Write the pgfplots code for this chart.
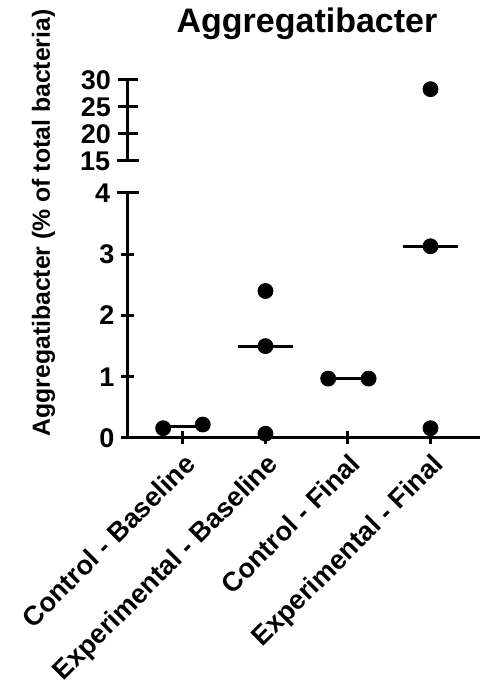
\documentclass[border=0pt]{standalone}
\usepackage{fontspec}
\setmainfont{Liberation Sans}
\usepackage{pgfplots}
\pgfplotsset{compat=1.18}
\begin{document}
\begin{tikzpicture}
\pgfplotsset{
  brk/.style={
    scale only axis, width=176pt, clip=false,
    xmin=-0.666, xmax=3.6,
    axis line style={line width=1.5pt,-},
    every outer x axis line/.append style={-},
    every outer y axis line/.append style={-},
    every inner x axis line/.append style={-},
    every inner y axis line/.append style={-},
    tick style={line width=1.5pt, black},
    tick align=outside,
    major tick length=6.5pt,
    tick label style={font=\fontsize{13.5}{15}\selectfont\bfseries},
    /pgf/number format/assume math mode=true,
    extra y tick style={tick align=center, major tick length=10.8pt},
  }
}
\useasboundingbox (-64pt,-128pt) rectangle (178.5pt,219pt);
% lower segment
\begin{axis}[brk, at={(0,0)}, anchor=south west, height=122.5pt,
  ymin=0, ymax=4, ytick={0,1,2,3}, extra y ticks={4},
  axis x line=bottom, axis y line=left,
  axis line style={line width=1.5pt,-},
  xtick={0,1,2,3},
  xticklabels={Control - Baseline, Experimental - Baseline, Control - Final, Experimental - Final},
  x tick label style={rotate=45, anchor=north east, inner sep=2.5pt},
]
\addplot[black, line width=1.5pt] coordinates {(-0.33,0.19) (0.33,0.19)};
\addplot[black, line width=1.5pt] coordinates {(0.67,1.50) (1.33,1.50)};
\addplot[black, line width=1.5pt] coordinates {(1.67,0.97) (2.33,0.97)};
\addplot[black, line width=1.5pt] coordinates {(2.67,3.13) (3.33,3.13)};
\addplot[only marks, mark=*, mark size=3.75pt, black] coordinates {
  (-0.24,0.16) (0.24,0.22)
  (1,2.40) (1,1.50) (1,0.07)
  (1.76,0.97) (2.25,0.97)
  (3,3.13) (3,0.16)
};
\end{axis}
% upper segment
\begin{axis}[brk, at={(0,138.5pt)}, anchor=south west, height=40.5pt,
  major tick length=10pt,
  ymin=15, ymax=30, ytick={20,25,30}, extra y ticks={15},
  axis x line=none, axis y line=left,
  axis line style={line width=1.5pt,-},
  xtick=\empty,
]
\addplot[only marks, mark=*, mark size=3.75pt, black] coordinates {(3,28.3)};
\end{axis}
\node[anchor=base, font=\fontsize{17}{20}\selectfont\bfseries] at (89.5pt,202.5pt) {Aggregatibacter};
\node[rotate=90, anchor=base, font=\fontsize{12.4}{14}\selectfont\bfseries] at (-39pt,107.5pt) {Aggregatibacter (\% of total bacteria)};
\end{tikzpicture}
\end{document}
